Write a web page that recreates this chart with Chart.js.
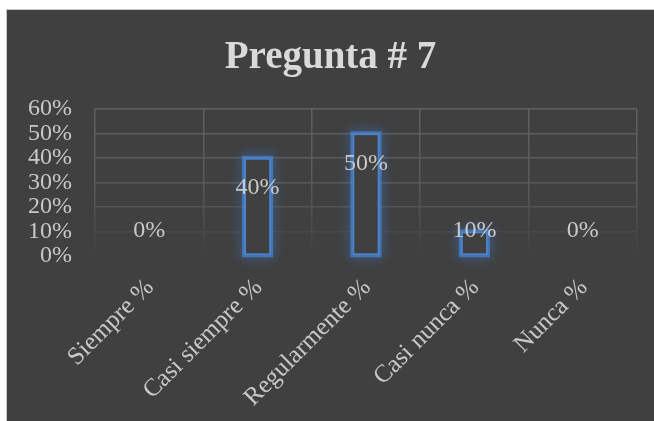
<!DOCTYPE html>
<html>
<head>
<meta charset="utf-8">
<script src="https://cdn.jsdelivr.net/npm/chart.js@4.4.0/dist/chart.umd.min.js"></script>
<style>
html,body{margin:0;padding:0;background:#fff;overflow:hidden;}
#box{position:absolute;left:6px;top:9px;width:647px;height:411px;border:1px solid #c8c8c8;background:#404040;}
</style>
</head>
<body>
<div id="box"><canvas id="chart" width="647" height="411"></canvas></div>
<script>
const categories=["Siempre %","Casi siempre %","Regularmente %","Casi nunca %","Nunca %"];
const values=[0,40,50,10,0];
const yTicks=[0,10,20,30,40,50,60];

const textColor="#c8c8c8";
const serif="'Liberation Serif', 'DejaVu Serif', serif";

function gridColor(c){
const a=c.chart.chartArea;
if(!a) return "#5a5a5a";
const g=c.chart.ctx.createLinearGradient(0,a.top,0,a.bottom);
g.addColorStop(0,"#606060");
g.addColorStop(0.55,"#595959");
g.addColorStop(1,"#404040");
return g;
}

const glow={
id:"glow",
beforeDatasetsDraw(chart){
const ctx=chart.ctx;
chart.getDatasetMeta(0).data.forEach((bar,i)=>{
if(!values[i]) return;
const w=bar.width,l=bar.x-w/2,t=bar.y,h=bar.base-bar.y;
ctx.save();
ctx.shadowColor="rgba(70,135,220,0.9)";
ctx.shadowBlur=13;
ctx.strokeStyle="rgba(70,135,220,0.45)";
ctx.lineWidth=4;
ctx.strokeRect(l,t,w,h);
ctx.strokeRect(l,t,w,h);
ctx.restore();
});
}
};

const labels={
id:"labels",
afterDatasetsDraw(chart){
const ctx=chart.ctx;
const zero=chart.scales.y.getPixelForValue(0);
ctx.save();
ctx.font="24px "+serif;
ctx.fillStyle=textColor;
ctx.textAlign="center";
ctx.textBaseline="middle";
chart.getDatasetMeta(0).data.forEach((bar,i)=>{
const y=Math.min(bar.y+30,zero-25);
ctx.fillText(values[i]+"%",bar.x,y);
});
ctx.restore();
}
};

new Chart(document.getElementById("chart"),{
type:"bar",
data:{
labels:categories,
datasets:[{
data:values,
backgroundColor:"#404040",
borderColor:"#4d83c9",
borderWidth:2,
borderSkipped:false,
barPercentage:0.25,
categoryPercentage:1
}]
},
options:{
responsive:false,
animation:false,
layout:{padding:{top:25,right:17,bottom:0,left:17}},
plugins:{
legend:{display:false},
tooltip:{enabled:false},
title:{
display:true,
text:"Pregunta # 7",
color:"#d9d9d9",
font:{family:serif,size:39,weight:"bold"},
padding:{top:0,bottom:27}
}
},
scales:{
x:{
grid:{color:gridColor,lineWidth:1.5,drawTicks:false},
border:{display:false},
ticks:{color:textColor,font:{family:serif,size:25},minRotation:45,maxRotation:45,padding:17,labelOffset:1,autoSkip:false},
afterFit(s){s.height=165;}
},
y:{
min:0,max:60,
afterBuildTicks(s){s.ticks=yTicks.map(v=>({value:v}));},
grid:{color:gridColor,lineWidth:1.5,drawTicks:false},
border:{display:false},
ticks:{color:textColor,font:{family:serif,size:24},padding:23,autoSkip:false,callback:v=>v+"%"},
afterFit(s){s.width=71;}
}
}
},
plugins:[glow,labels]
});
</script>
</body>
</html>
